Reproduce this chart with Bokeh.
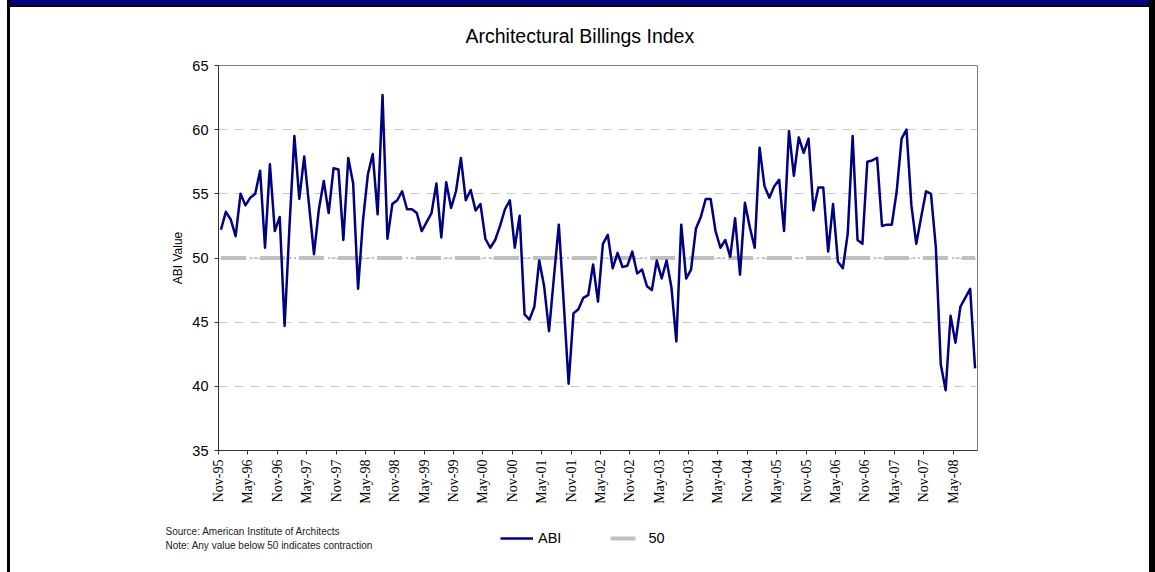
import math
from bokeh.plotting import figure
from bokeh.layouts import column
from bokeh.models import Range1d, FixedTicker, Legend, LegendItem, Label
from bokeh.embed import file_html
from bokeh.resources import INLINE

# ---------------- data (monthly ABI, Nov-95 .. Sep-08) ----------------
ABI = [
    52.2, 53.6, 53.0, 51.7, 55.0, 54.1, 54.7, 55.0, 56.8, 50.8,
    57.3, 52.1, 53.2, 44.7, 52.5, 59.5, 54.6, 57.9, 54.1, 50.3,
    53.8, 56.0, 53.5, 57.0, 56.9, 51.4, 57.8, 55.8, 47.6, 52.9,
    56.5, 58.1, 53.4, 62.7, 51.5, 54.2, 54.5, 55.2, 53.8, 53.8,
    53.5, 52.1, 52.8, 53.5, 55.8, 51.6, 55.9, 53.9, 55.2, 57.8,
    54.5, 55.3, 53.7, 54.2, 51.5, 50.8, 51.4, 52.5, 53.8, 54.5,
    50.8, 53.3, 45.6, 45.2, 46.2, 49.8, 47.8, 44.3, 48.5, 52.6,
    46.5, 40.2, 45.7, 46.0, 46.9, 47.1, 49.5, 46.6, 51.1, 51.8,
    49.2, 50.4, 49.3, 49.4, 50.5, 48.8, 49.1, 47.8, 47.5, 49.8,
    48.4, 49.8, 47.7, 43.5, 52.6, 48.4, 49.1, 52.3, 53.2, 54.6,
    54.6, 52.1, 50.8, 51.4, 50.1, 53.1, 48.7, 54.3, 52.4, 50.8,
    58.6, 55.6, 54.7, 55.6, 56.1, 52.1, 59.9, 56.4, 59.4, 58.2,
    59.3, 53.7, 55.5, 55.5, 50.5, 54.2, 49.7, 49.2, 51.9, 59.5,
    51.4, 51.1, 57.5, 57.6, 57.8, 52.5, 52.6, 52.6, 55.2, 59.3,
    60.0, 54.1, 51.1, 53.2, 55.2, 55.0, 50.8, 41.7, 39.7, 45.5,
    43.4, 46.2, 46.9, 47.6, 41.4,
]
FIFTY = [50] * len(ABI)

TICK_LABELS = [
    "Nov-95", "May-96", "Nov-96", "May-97", "Nov-97", "May-98", "Nov-98",
    "May-99", "Nov-99", "May-00", "Nov-00", "May-01", "Nov-01", "May-02",
    "Nov-02", "May-03", "Nov-03", "May-04", "Nov-04", "May-05", "Nov-05",
    "May-06", "Nov-06", "May-07", "Nov-07", "May-08",
]
TICK_STEP = 6  # months between labelled ticks
Y_TICKS = [35, 40, 45, 50, 55, 60, 65]

TITLE = "Architectural Billings Index"
Y_LABEL = "ABI Value"
NOTES = ["Source: American Institute of Architects",
         "Note: Any value below 50 indicates contraction"]
SERIES_NAMES = ["ABI", "50"]

# ---------------- styling ----------------
SANS = "Liberation Sans"
SERIF = "Liberation Serif"
NAVY = "#000080"
GREY50 = "#c0c0c0"
ABI_STYLE = dict(line_color=NAVY, line_width=2.5)
FIFTY_STYLE = dict(line_color=GREY50, line_width=4, line_dash="25 14")

W, H_MAIN, H_FOOT = 1155, 520, 52

xs = [i + 0.5 for i in range(len(ABI))]

# ---------------- main chart ----------------
p = figure(width=W, height=H_MAIN, output_backend="svg", toolbar_location=None,
           x_range=Range1d(0, len(ABI)), y_range=Range1d(Y_TICKS[0], Y_TICKS[-1]),
           min_border_left=218, min_border_right=178,
           min_border_top=65, min_border_bottom=H_MAIN - 450,
           background_fill_color="white", border_fill_color=None,
           outline_line_color="#808080", outline_line_width=1)
p.frame_align = False

p.title.text = TITLE
p.title.align = "left"
p.title.offset = 247
p.title.text_font = SANS
p.title.text_font_size = "19.5px"
p.title.text_font_style = "normal"
p.title.text_color = "black"
p.title.standoff = 38

p.xaxis.ticker = FixedTicker(ticks=[k * TICK_STEP for k in range(len(TICK_LABELS))])
p.xaxis.major_label_overrides = {k * TICK_STEP: lab for k, lab in enumerate(TICK_LABELS)}
p.xaxis.major_label_orientation = math.pi / 2
p.xaxis.major_label_text_font = SERIF
p.xaxis.major_label_text_font_size = "14px"
p.xaxis.major_label_text_color = "black"
p.xaxis.major_label_standoff = 5
p.xaxis.minor_tick_line_color = None
p.xaxis.major_tick_out = 4
p.xaxis.major_tick_in = 0
p.xaxis.axis_line_color = "#333333"
p.xaxis.major_tick_line_color = "#333333"

p.yaxis.ticker = FixedTicker(ticks=Y_TICKS)
p.yaxis.major_label_text_font = SANS
p.yaxis.major_label_text_font_size = "14.5px"
p.yaxis.major_label_text_color = "black"
p.yaxis.major_label_standoff = 6
p.yaxis.minor_tick_line_color = None
p.yaxis.major_tick_out = 4
p.yaxis.major_tick_in = 0
p.yaxis.axis_line_color = "#333333"
p.yaxis.major_tick_line_color = "#333333"
p.yaxis.axis_label = Y_LABEL
p.yaxis.axis_label_text_font = SANS
p.yaxis.axis_label_text_font_size = "12px"
p.yaxis.axis_label_text_font_style = "normal"
p.yaxis.axis_label_text_color = "black"
p.yaxis.axis_label_standoff = 4

p.xgrid.visible = False
p.ygrid.grid_line_color = "#c8c8c8"
p.ygrid.grid_line_dash = "9 7"
p.ygrid.grid_line_width = 1

p.line(xs, FIFTY, **FIFTY_STYLE)
p.line(xs, FIFTY, line_color=GREY50, line_width=2,
       line_dash="2 3 2 32", line_dash_offset=10)
p.line(xs, ABI, line_join="round", **ABI_STYLE)

# ---------------- footer: notes + legend ----------------
# footer ranges are in page pixels; the series drawn here fall outside
# them and only serve as legend swatch sources
f = figure(width=W, height=H_FOOT, output_backend="svg", toolbar_location=None,
           x_range=Range1d(0, W), y_range=Range1d(H_MAIN + H_FOOT, H_MAIN),
           min_border=0, x_axis_location=None, y_axis_location=None,
           background_fill_color=None, border_fill_color=None,
           outline_line_color=None)
f.frame_align = False
f.title.visible = False
f.xgrid.visible = False
f.ygrid.grid_line_color = None

for note, yy in zip(NOTES, [530.5, 545.0]):
    f.add_layout(Label(x=165, y=yy, text=note, text_align="left",
                       text_baseline="middle", text_font=SANS,
                       text_font_size="10px", text_color="#222222"))

k_abi = f.line(xs, ABI, **ABI_STYLE)
k_50 = f.line(xs, FIFTY, **FIFTY_STYLE)
legend = Legend(items=[LegendItem(label=SERIES_NAMES[0], renderers=[k_abi]),
                       LegendItem(label=SERIES_NAMES[1], renderers=[k_50])],
                location=(500, 26), orientation="horizontal",
                glyph_width=33, glyph_height=16, label_height=16,
                label_standoff=5, padding=0, margin=0, spacing=49,
                border_line_color=None, background_fill_alpha=0,
                label_text_font=SANS, label_text_font_size="14.5px",
                label_text_color="black")
f.add_layout(legend, "center")

layout = column(p, f, spacing=0, styles={
    "background-color": "white",
    "box-shadow": ("inset 7px 0 0 0 #ffffff, inset 10px 0 0 0 #000000, "
                   "inset -6px 0 0 0 #000000, inset 0 5px 0 0 #000080, "
                   "inset 0 7px 0 0 #000000"),
})

open("out.html", "w").write(file_html(layout, INLINE))
